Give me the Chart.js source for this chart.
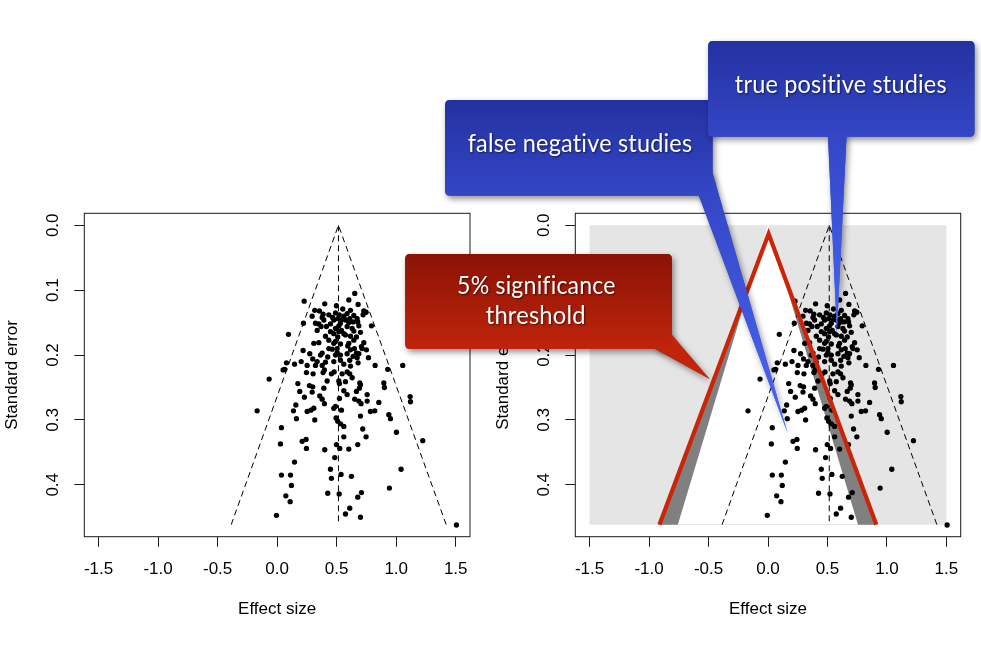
<!DOCTYPE html>
<html>
<head>
<meta charset="utf-8">
<script src="https://cdn.jsdelivr.net/npm/chart.js@4.4.1/dist/chart.umd.min.js"></script>
<style>
  html, body { margin: 0; padding: 0; background: #fff; }
  #wrap { position: relative; width: 981px; height: 651px; overflow: hidden; }
  #wrap canvas { position: absolute; left: 0; top: 0; }
</style>
</head>
<body>
<div id="wrap">
  <canvas id="leftFunnel" width="981" height="651"></canvas>
  <canvas id="rightFunnel" width="981" height="651"></canvas>
</div>
<script>
// studies: effect size and standard error
var effectSize = [
  0.652,0.227,0.602,0.400,0.498,0.680,0.551,0.316,0.355,0.616,
  0.728,0.747,0.722,0.294,0.386,0.521,0.560,0.588,0.465,0.509,
  0.610,0.392,0.638,0.677,0.221,0.350,0.448,0.532,0.686,0.792,
  0.369,0.588,0.490,0.336,0.540,0.644,0.700,0.095,0.406,0.509,
  0.616,0.574,0.434,0.490,0.644,0.728,0.308,0.350,0.532,0.593,
  0.504,0.708,0.462,0.616,0.750,0.218,0.378,0.686,0.274,0.588,
  0.490,0.532,0.638,0.425,0.672,0.299,0.767,0.336,0.406,0.476,
  0.610,0.378,0.560,0.680,0.078,0.202,0.146,0.252,0.322,0.823,
  1.055,0.064,0.050,0.929,0.246,0.397,0.479,0.588,0.610,0.386,
  0.302,0.456,0.546,0.630,0.574,-0.067,0.174,0.420,0.518,0.694,
  0.523,0.896,0.901,0.271,0.299,0.392,0.560,0.700,0.666,0.190,
  0.294,0.691,0.588,0.756,1.117,0.358,0.523,0.652,0.229,0.686,
  0.756,1.120,0.705,0.854,0.157,0.378,0.397,0.490,-0.168,0.137,
  0.308,0.283,0.252,0.540,0.784,0.820,0.476,0.938,0.700,0.952,
  0.162,0.316,0.495,0.509,0.532,0.560,0.036,0.719,1.002,0.560,
  0.747,1.223,0.210,0.243,0.028,0.246,0.677,0.498,0.526,0.602,
  0.400,0.484,0.146,0.448,1.041,0.036,0.112,0.537,0.624,0.456,
  0.120,0.943,0.425,0.521,0.708,0.073,0.677,0.109,0.610,-0.006,
  0.574,0.700,1.506,0.434,0.476,0.378,0.644,0.672,0.574,0.602,
  0.518,0.630,0.448,0.560,0.666,0.476,0.602,0.649,0.504,0.666,
  0.434,0.364,0.532,0.616,0.714,0.518,0.476,0.414,0.322,0.490,0.549
];
var standardError = [
  0.105,0.117,0.115,0.121,0.124,0.122,0.129,0.131,0.132,0.131,
  0.132,0.134,0.138,0.140,0.137,0.138,0.140,0.136,0.142,0.144,
  0.144,0.146,0.149,0.149,0.151,0.152,0.152,0.151,0.155,0.155,
  0.156,0.156,0.159,0.162,0.162,0.163,0.165,0.168,0.171,0.172,
  0.171,0.169,0.177,0.179,0.177,0.181,0.182,0.181,0.183,0.186,
  0.190,0.187,0.191,0.192,0.192,0.193,0.197,0.198,0.198,0.198,
  0.200,0.200,0.202,0.203,0.204,0.206,0.204,0.210,0.211,0.210,
  0.208,0.216,0.214,0.212,0.212,0.210,0.214,0.216,0.216,0.216,
  0.216,0.222,0.223,0.222,0.227,0.223,0.226,0.226,0.229,0.227,
  0.229,0.229,0.229,0.235,0.241,0.237,0.244,0.240,0.240,0.243,
  0.244,0.243,0.250,0.247,0.249,0.251,0.255,0.246,0.256,0.256,
  0.257,0.251,0.261,0.261,0.264,0.263,0.267,0.268,0.265,0.271,
  0.271,0.272,0.275,0.273,0.277,0.268,0.275,0.279,0.286,0.286,
  0.282,0.285,0.287,0.285,0.287,0.286,0.282,0.292,0.294,0.298,
  0.298,0.300,0.297,0.302,0.306,0.310,0.312,0.314,0.319,0.326,
  0.326,0.332,0.333,0.330,0.337,0.344,0.338,0.338,0.344,0.345,
  0.346,0.358,0.365,0.376,0.376,0.385,0.385,0.384,0.387,0.390,
  0.401,0.405,0.413,0.414,0.412,0.417,0.419,0.426,0.436,0.447,
  0.445,0.450,0.462,0.138,0.146,0.142,0.139,0.144,0.146,0.150,
  0.155,0.159,0.164,0.167,0.172,0.182,0.182,0.190,0.196,0.197,
  0.190,0.200,0.208,0.217,0.190,0.164,0.167,0.156,0.151,0.135,0.145
];

// axes
var xTicks = [-1.5, -1.0, -0.5, 0.0, 0.5, 1.0, 1.5];
var yTicks = [0.0, 0.1, 0.2, 0.3, 0.4];

// funnel around the pooled estimate (dashed)
var funnelEffect = [-0.386, 0.515, 1.420];
var funnelSE     = [0.4615, 0.0, 0.4615];
var meanEffect   = [0.515, 0.515];
var meanSE       = [0.0, 0.4615];

// significance regions around zero (right panel)
var regionEffect = [-1.5, 1.5, 1.5, -1.5];
var regionSE     = [0.0, 0.0, 0.4615, 0.4615];
var threshEffect = [-0.913, 0.005, 0.911];
var threshSE     = [0.4615, 0.013, 0.4615];
var innerEffect  = [-0.758, 0.0, 0.757];
var innerSE      = [0.4615, 0.0, 0.4615];

// callout texts and where their tails point (data coords of right panel)
var calloutText = ['false negative studies', 'true positive studies', '5% significance', 'threshold'];
var calloutTipEffect = [0.165, 0.579, -0.491];
var calloutTipSE     = [0.320, 0.165, 0.237];

var AXIS_FONT = '"Liberation Sans", Arial, Helvetica, sans-serif';

function pts(xs, ys) {
  return xs.map(function (x, i) { return { x: x, y: ys[i] }; });
}

function makeScales() {
  return {
    x: {
      type: 'linear', min: -1.62, max: 1.62,
      afterBuildTicks: function (s) { s.ticks = xTicks.map(function (v) { return { value: v }; }); },
      afterFit: function (s) { s.height = 82.8; },
      grid: { display: true, drawOnChartArea: false, drawTicks: true, tickLength: 10, color: '#1a1a1a', lineWidth: 1 },
      border: { display: false },
      ticks: {
        color: '#000', padding: 12, maxRotation: 0, minRotation: 0, autoSkip: false,
        font: { family: AXIS_FONT, size: 17 },
        callback: function (v) { return Number(v).toFixed(1); }
      },
      title: { display: true, text: 'Effect size', color: '#000', padding: 0, font: { family: AXIS_FONT, size: 17 } }
    },
    y: {
      type: 'linear', reverse: true, min: -0.0185, max: 0.480,
      afterBuildTicks: function (s) { s.ticks = yTicks.map(function (v) { return { value: v }; }); },
      afterFit: function (s) { s.width = 84.3; },
      grid: { display: true, drawOnChartArea: false, drawTicks: true, tickLength: 10, color: '#1a1a1a', lineWidth: 1 },
      border: { display: false },
      ticks: { display: false },
      title: { display: true, text: 'Standard error', color: '#000', padding: { top: 2.5, bottom: 0 }, font: { family: AXIS_FONT, size: 17 } }
    }
  };
}

// box around the plot and R-style rotated y labels
var framePlugin = {
  id: 'frame',
  afterDraw: function (chart) {
    var ctx = chart.ctx, a = chart.chartArea, y = chart.scales.y;
    ctx.save();
    ctx.strokeStyle = '#1a1a1a';
    ctx.lineWidth = 1;
    ctx.strokeRect(a.left, a.top, a.right - a.left, a.bottom - a.top);
    ctx.fillStyle = '#000';
    ctx.font = '17px ' + AXIS_FONT;
    ctx.textAlign = 'center';
    ctx.textBaseline = 'middle';
    yTicks.forEach(function (v) {
      ctx.save();
      ctx.translate(a.left - 31, y.getPixelForValue(v));
      ctx.rotate(-Math.PI / 2);
      ctx.fillText(v.toFixed(1), 0, 0);
      ctx.restore();
    });
    ctx.restore();
  }
};

function roundRect(ctx, x, y, w, h, r) {
  ctx.moveTo(x + r, y);
  ctx.lineTo(x + w - r, y);
  ctx.quadraticCurveTo(x + w, y, x + w, y + r);
  ctx.lineTo(x + w, y + h - r);
  ctx.quadraticCurveTo(x + w, y + h, x + w - r, y + h);
  ctx.lineTo(x + r, y + h);
  ctx.quadraticCurveTo(x, y + h, x, y + h - r);
  ctx.lineTo(x, y + r);
  ctx.quadraticCurveTo(x, y, x + r, y);
}

function drawCallout(ctx, c, tip) {
  var b = c.box;
  var boxGrad = ctx.createLinearGradient(0, b.y, 0, b.y + b.h);
  boxGrad.addColorStop(0, c.top);
  boxGrad.addColorStop(1, c.bottom);
  var tailGrad = ctx.createLinearGradient(c.base[0][0], c.base[0][1], tip.x, tip.y);
  tailGrad.addColorStop(0, c.bottom);
  tailGrad.addColorStop(1, c.tipColor);

  function tailPath() {
    ctx.beginPath();
    ctx.moveTo(c.base[0][0], c.base[0][1]);
    ctx.lineTo(tip.x, tip.y);
    ctx.lineTo(c.base[1][0], c.base[1][1]);
    ctx.lineTo(c.inner[0], c.inner[1]);
    ctx.closePath();
  }
  function boxPath() {
    ctx.beginPath();
    roundRect(ctx, b.x, b.y, b.w, b.h, 5);
    ctx.closePath();
  }

  // shadow pass
  ctx.save();
  ctx.shadowColor = 'rgba(0,0,0,0.45)';
  ctx.shadowBlur = 6;
  ctx.shadowOffsetX = 2;
  ctx.shadowOffsetY = 3;
  ctx.fillStyle = tailGrad; tailPath(); ctx.fill();
  ctx.fillStyle = boxGrad; boxPath(); ctx.fill();
  ctx.restore();
  // clean pass
  ctx.save();
  ctx.fillStyle = tailGrad; tailPath(); ctx.fill();
  ctx.fillStyle = boxGrad; boxPath(); ctx.fill();
  ctx.restore();

  // text
  ctx.save();
  ctx.fillStyle = '#fff';
  ctx.textAlign = 'center';
  ctx.textBaseline = 'alphabetic';
  ctx.shadowColor = 'rgba(0,0,0,0.6)';
  ctx.shadowBlur = 2;
  ctx.shadowOffsetX = 1;
  ctx.shadowOffsetY = 1;
  ctx.font = '25px Lato, "Open Sans", sans-serif';
  if ('letterSpacing' in ctx) ctx.letterSpacing = '0.2px';
  c.lines.forEach(function (ln) {
    var w = ctx.measureText(ln.text).width;
    var sx = Math.max(0.8, Math.min(1.1, ln.width / w));
    ctx.save();
    ctx.translate(ln.cx, ln.base);
    ctx.scale(sx, 1);
    ctx.fillText(ln.text, 0, 0);
    ctx.restore();
  });
  ctx.restore();
}

var callouts = [
  { // false negative studies
    box: { x: 445.1, y: 100, w: 267.5, h: 95.7 },
    base: [[698.9, 195.7], [712.6, 173.3]], inner: [698.9, 173.3],
    top: '#2331a0', bottom: '#3446c6', tipColor: '#4a68f2',
    lines: [{ text: calloutText[0], cx: 580, base: 151.7, width: 224.6 }]
  },
  { // true positive studies
    box: { x: 708.2, y: 41, w: 266.3, h: 95.7 },
    base: [[828, 136.7], [846.5, 136.7]], inner: [837, 120],
    top: '#2331a0', bottom: '#3446c6', tipColor: '#4465f4',
    lines: [{ text: calloutText[1], cx: 840.8, base: 93.3, width: 212 }]
  },
  { // 5% significance threshold
    box: { x: 405.2, y: 254, w: 266.7, h: 95 },
    base: [[655.3, 349], [671.9, 335]], inner: [655.3, 335],
    top: '#8a1305', bottom: '#c0240b', tipColor: '#c4250b',
    lines: [
      { text: calloutText[2], cx: 536.4, base: 294.3, width: 158.7 },
      { text: calloutText[3], cx: 535.7, base: 324.3, width: 100 }
    ]
  }
];

var calloutPlugin = {
  id: 'callouts',
  afterDraw: function (chart) {
    var ctx = chart.ctx, xs = chart.scales.x, ys = chart.scales.y;
    callouts.forEach(function (c, i) {
      var tip = { x: xs.getPixelForValue(calloutTipEffect[i]), y: ys.getPixelForValue(calloutTipSE[i]) };
      drawCallout(ctx, c, tip);
    });
  }
};

var pointStyle = { pointRadius: 2.65, pointHoverRadius: 2.65, pointBackgroundColor: '#000', pointBorderColor: '#000', pointBorderWidth: 0, showLine: false };
function dashed(data) {
  return { data: data, showLine: true, borderColor: '#000', borderWidth: 1, borderDash: [6, 4], pointRadius: 0, fill: false, tension: 0 };
}
function shape(data, color) {
  return { data: data, showLine: true, borderColor: 'rgba(0,0,0,0)', borderWidth: 0, backgroundColor: color, fill: 'shape', pointRadius: 0, tension: 0 };
}

var baseOptions = function (padLeft, padRight) {
  return {
    responsive: false,
    animation: false,
    events: [],
    layout: { autoPadding: false, padding: { left: padLeft, right: padRight, top: 213.3, bottom: 31.5 } },
    plugins: { legend: { display: false }, tooltip: { enabled: false } },
    scales: makeScales()
  };
};

new Chart(document.getElementById('leftFunnel'), {
  type: 'scatter',
  data: {
    datasets: [
      Object.assign({ data: pts(effectSize, standardError) }, pointStyle),
      dashed(pts(meanEffect, meanSE)),
      dashed(pts(funnelEffect, funnelSE))
    ]
  },
  options: baseOptions(0, 981 - 470),
  plugins: [framePlugin]
});

new Chart(document.getElementById('rightFunnel'), {
  type: 'scatter',
  data: {
    datasets: [
      { data: pts(threshEffect, threshSE), showLine: true, borderColor: '#cc2409', borderWidth: 4.2, borderJoinStyle: 'miter', pointRadius: 0, fill: false, tension: 0 },
      Object.assign({ data: pts(effectSize, standardError) }, pointStyle),
      dashed(pts(meanEffect, meanSE)),
      dashed(pts(funnelEffect, funnelSE)),
      shape(pts(innerEffect, innerSE), '#ffffff'),
      shape(pts(threshEffect, threshSE), '#808080'),
      shape(pts(regionEffect, regionSE), '#e5e5e5')
    ]
  },
  options: baseOptions(575.3 - 84.3, 981 - 960.7),
  plugins: [framePlugin, calloutPlugin]
});
</script>
</body>
</html>
